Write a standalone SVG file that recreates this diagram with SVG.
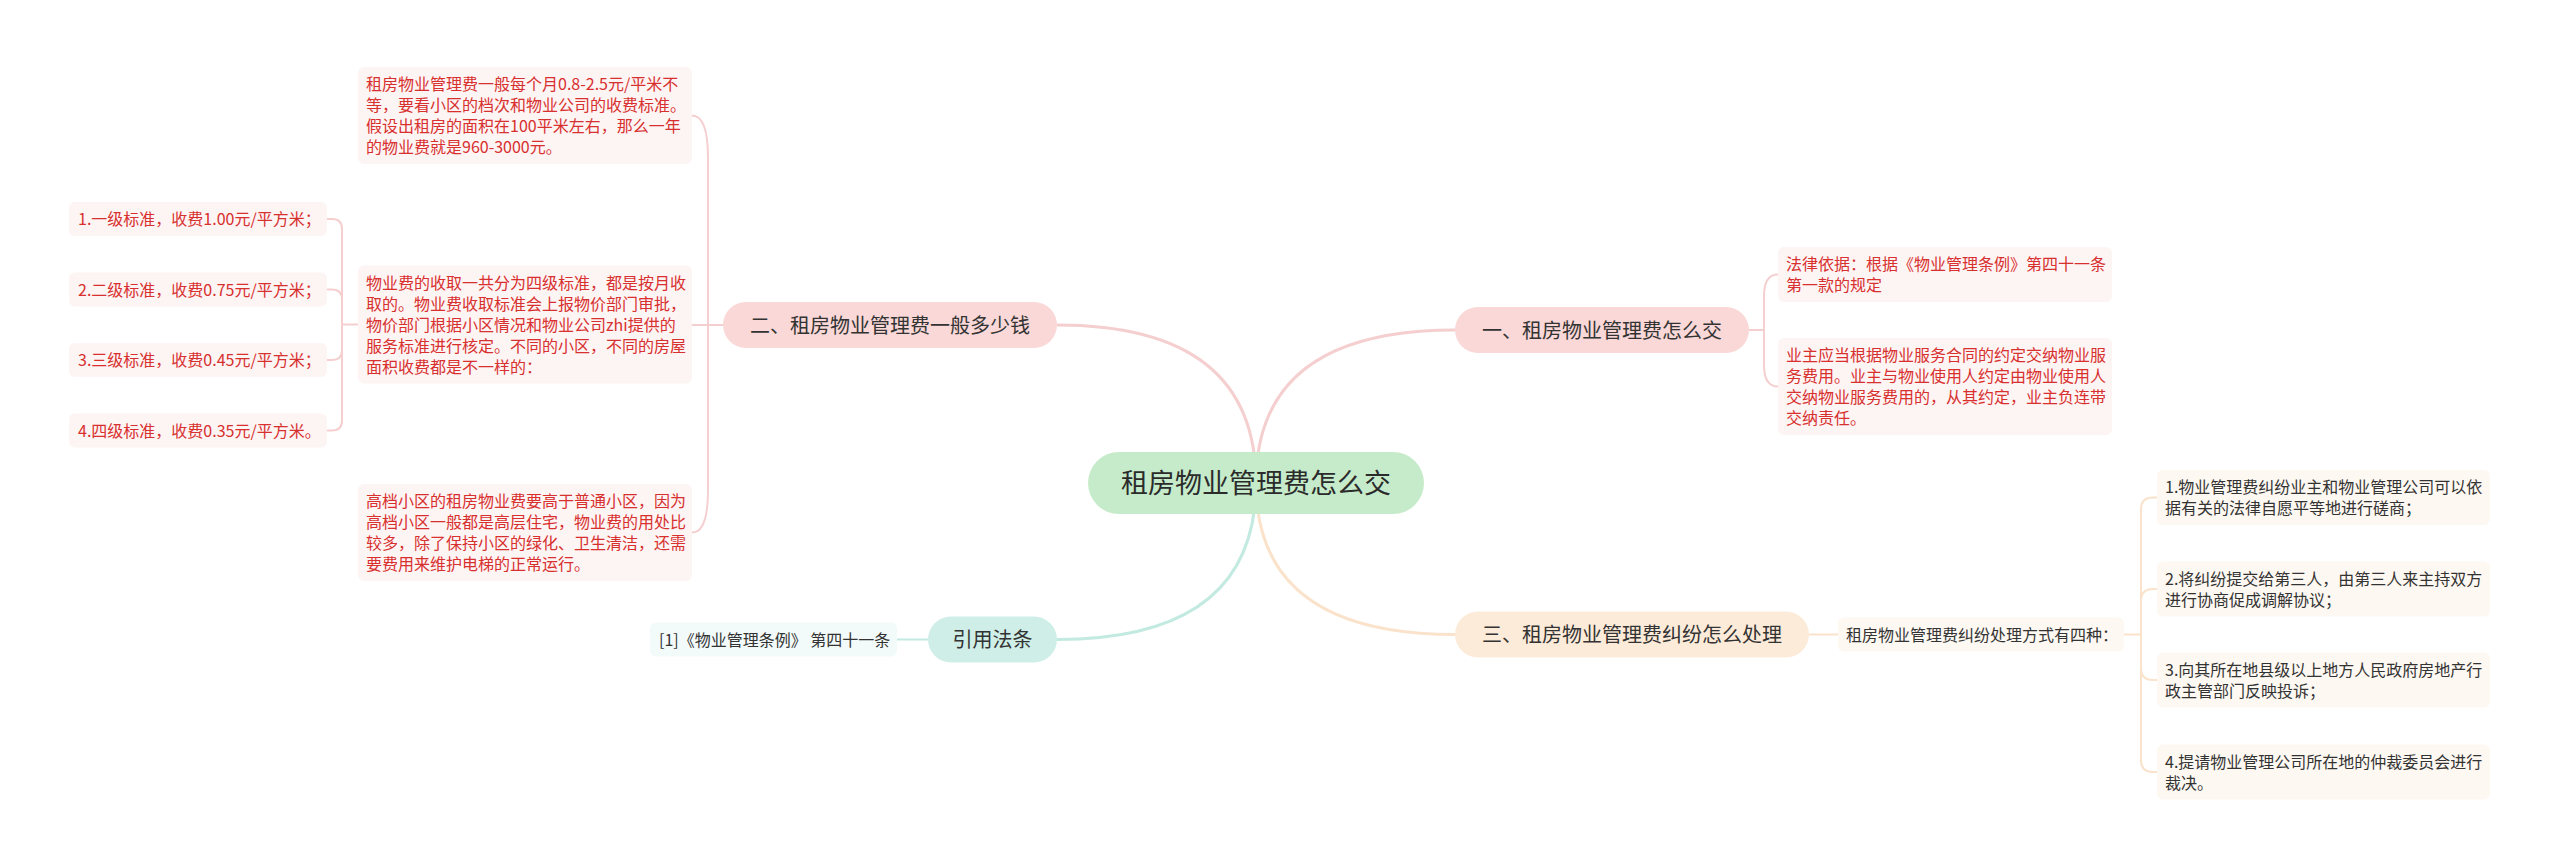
<svg xmlns="http://www.w3.org/2000/svg" width="2560" height="868" viewBox="0 0 2560 868">
<style>
text{font-family:"Noto Sans CJK SC","Noto Sans",sans-serif;}
.root{font-size:27px;fill:#2b2b2b;text-anchor:middle;}
.br{font-size:20px;fill:#333333;text-anchor:middle;}
.lf{font-size:16px;fill:#d7302e;}
.lfd{font-size:16px;fill:#333333;}
.c-pink{fill:none;stroke:#f5cfcf;stroke-width:2;}
.c-peach{fill:none;stroke:#fae2cb;stroke-width:2;}
.c-mint{fill:none;stroke:#c2eae0;stroke-width:2;}
.main{stroke-width:3;}
.bx-pink{fill:#fdf4f4;}
.bx-peach{fill:#fdf8f2;}
.bx-mint{fill:#f2fafa;}
</style>
<rect width="2560" height="868" fill="#ffffff"/>
<g id="connectors">
  <path class="c-pink main" d="M1256,483 Q1256,330 1455,330"/>
  <path class="c-pink main" d="M1256,483 Q1256,325 1057,325"/>
  <path class="c-peach main" d="M1256,483 Q1256,634.5 1455,634.5"/>
  <path class="c-mint main" d="M1256,483 Q1256,639.5 1057,639.5"/>
  <!-- branch 2 bracket -->
  <path class="c-pink" d="M723,325 H708 V158 Q708,115.5 692,115.5"/>
  <path class="c-pink" d="M708,325 H692"/>
  <path class="c-pink" d="M708,325 V490 Q708,532.5 692,532.5"/>
  <!-- level-3 bracket left -->
  <path class="c-pink" d="M358,324.5 H342"/>
  <path class="c-pink" d="M342,324.5 V229 Q342,219 332,219 H327"/>
  <path class="c-pink" d="M342,324.5 V299.5 Q342,289.5 332,289.5 H327"/>
  <path class="c-pink" d="M342,324.5 V350 Q342,360 332,360 H327"/>
  <path class="c-pink" d="M342,324.5 V420.5 Q342,430.5 332,430.5 H327"/>
  <!-- branch 1 bracket -->
  <path class="c-pink" d="M1749,330 H1764 V296 Q1764,274.5 1778,274.5"/>
  <path class="c-pink" d="M1764,330 V365 Q1764,386.5 1778,386.5"/>
  <!-- branch 3 -->
  <path class="c-peach" d="M1809,634.5 H1838"/>
  <path class="c-peach" d="M2124,634.5 H2141"/>
  <path class="c-peach" d="M2141,634.5 V509.5 Q2141,497.5 2153,497.5 H2157"/>
  <path class="c-peach" d="M2141,634.5 V601 Q2141,589 2153,589 H2157"/>
  <path class="c-peach" d="M2141,634.5 V668 Q2141,680 2153,680 H2157"/>
  <path class="c-peach" d="M2141,634.5 V760 Q2141,772 2153,772 H2157"/>
  <!-- citation -->
  <path class="c-mint" d="M928,639.5 H897"/>
</g>

<g id="root">
  <rect x="1088" y="452" width="336" height="62" rx="31" fill="#c6ebca"/>
  <text class="root" x="1256" y="493">租房物业管理费怎么交</text>
</g>

<g id="branch1">
  <rect x="1455" y="307" width="294" height="46" rx="23" fill="#f9d8d7"/>
  <text class="br" x="1602" y="337.5">一、租房物业管理费怎么交</text>
</g>
<g id="b1-leaf1">
  <rect class="bx-pink" x="1778" y="247" width="334" height="55" rx="6"/>
  <text class="lf" x="1786" y="270">法律依据：根据《物业管理条例》第四十一条</text>
  <text class="lf" x="1786" y="291">第一款的规定</text>
</g>
<g id="b1-leaf2">
  <rect class="bx-pink" x="1778" y="338" width="334" height="97" rx="6"/>
  <text class="lf" x="1786" y="361">业主应当根据物业服务合同的约定交纳物业服</text>
  <text class="lf" x="1786" y="382">务费用。业主与物业使用人约定由物业使用人</text>
  <text class="lf" x="1786" y="403">交纳物业服务费用的，从其约定，业主负连带</text>
  <text class="lf" x="1786" y="424">交纳责任。</text>
</g>

<g id="branch2">
  <rect x="723" y="302" width="334" height="46" rx="23" fill="#f9d8d7"/>
  <text class="br" x="890" y="332.5">二、租房物业管理费一般多少钱</text>
</g>
<g id="b2-leaf1">
  <rect class="bx-pink" x="358" y="67" width="334" height="97" rx="6"/>
  <text class="lf" x="366" y="90">租房物业管理费一般每个月0.8-2.5元/平米不</text>
  <text class="lf" x="366" y="111">等，要看小区的档次和物业公司的收费标准。</text>
  <text class="lf" x="366" y="132">假设出租房的面积在100平米左右，那么一年</text>
  <text class="lf" x="366" y="153">的物业费就是960-3000元。</text>
</g>
<g id="b2-leaf2">
  <rect class="bx-pink" x="358" y="265.5" width="334" height="118" rx="6"/>
  <text class="lf" x="366" y="288.5">物业费的收取一共分为四级标准，都是按月收</text>
  <text class="lf" x="366" y="309.5">取的。物业费收取标准会上报物价部门审批，</text>
  <text class="lf" x="366" y="330.5">物价部门根据小区情况和物业公司zhi提供的</text>
  <text class="lf" x="366" y="351.5">服务标准进行核定。不同的小区，不同的房屋</text>
  <text class="lf" x="366" y="372.5">面积收费都是不一样的：</text>
</g>
<g id="b2-leaf3">
  <rect class="bx-pink" x="358" y="484" width="334" height="97" rx="6"/>
  <text class="lf" x="366" y="507">高档小区的租房物业费要高于普通小区，因为</text>
  <text class="lf" x="366" y="528">高档小区一般都是高层住宅，物业费的用处比</text>
  <text class="lf" x="366" y="549">较多，除了保持小区的绿化、卫生清洁，还需</text>
  <text class="lf" x="366" y="570">要费用来维护电梯的正常运行。</text>
</g>
<g id="b2-sub1">
  <rect class="bx-pink" x="69" y="202" width="258" height="34" rx="6"/>
  <text class="lf" x="78" y="225">1.一级标准，收费1.00元/平方米；</text>
</g>
<g id="b2-sub2">
  <rect class="bx-pink" x="69" y="272.5" width="258" height="34" rx="6"/>
  <text class="lf" x="78" y="295.5">2.二级标准，收费0.75元/平方米；</text>
</g>
<g id="b2-sub3">
  <rect class="bx-pink" x="69" y="343" width="258" height="34" rx="6"/>
  <text class="lf" x="78" y="366">3.三级标准，收费0.45元/平方米；</text>
</g>
<g id="b2-sub4">
  <rect class="bx-pink" x="69" y="413.5" width="258" height="34" rx="6"/>
  <text class="lf" x="78" y="436.5">4.四级标准，收费0.35元/平方米。</text>
</g>

<g id="branch3">
  <rect x="1455" y="611.5" width="354" height="46" rx="23" fill="#fdebd9"/>
  <text class="br" x="1632" y="642">三、租房物业管理费纠纷怎么处理</text>
</g>
<g id="b3-leaf">
  <rect class="bx-peach" x="1838" y="617.5" width="286" height="34" rx="6"/>
  <text class="lfd" x="1846" y="640.5">租房物业管理费纠纷处理方式有四种：</text>
</g>
<g id="b3-sub1">
  <rect class="bx-peach" x="2157" y="470" width="333" height="55" rx="6"/>
  <text class="lfd" x="2165" y="493">1.物业管理费纠纷业主和物业管理公司可以依</text>
  <text class="lfd" x="2165" y="514">据有关的法律自愿平等地进行磋商；</text>
</g>
<g id="b3-sub2">
  <rect class="bx-peach" x="2157" y="561.5" width="333" height="55" rx="6"/>
  <text class="lfd" x="2165" y="584.5">2.将纠纷提交给第三人，由第三人来主持双方</text>
  <text class="lfd" x="2165" y="605.5">进行协商促成调解协议；</text>
</g>
<g id="b3-sub3">
  <rect class="bx-peach" x="2157" y="652.5" width="333" height="55" rx="6"/>
  <text class="lfd" x="2165" y="675.5">3.向其所在地县级以上地方人民政府房地产行</text>
  <text class="lfd" x="2165" y="696.5">政主管部门反映投诉；</text>
</g>
<g id="b3-sub4">
  <rect class="bx-peach" x="2157" y="744.5" width="333" height="55" rx="6"/>
  <text class="lfd" x="2165" y="767.5">4.提请物业管理公司所在地的仲裁委员会进行</text>
  <text class="lfd" x="2165" y="788.5">裁决。</text>
</g>

<g id="branch4">
  <rect x="928" y="616.5" width="129" height="46" rx="23" fill="#ceeee7"/>
  <text class="br" x="992.5" y="647">引用法条</text>
</g>
<g id="b4-leaf">
  <rect class="bx-mint" x="650" y="622.5" width="247" height="34" rx="6"/>
  <text class="lfd" x="659" y="645.5">[1]《物业管理条例》 第四十一条</text>
</g>
</svg>
